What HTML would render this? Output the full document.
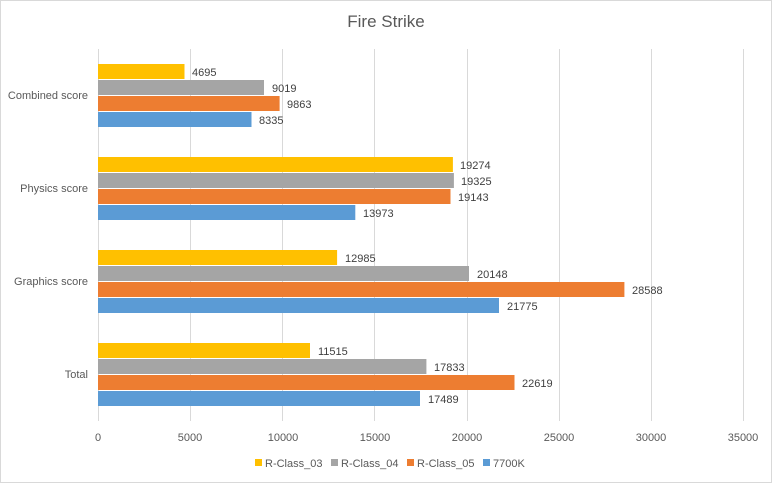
<!DOCTYPE html>
<html><head><meta charset="utf-8"><style>
body{margin:0;background:#fff}
svg{display:block;font-family:"Liberation Sans",sans-serif}
</style></head><body>
<svg width="772" height="483" viewBox="0 0 772 483">
<rect x="0.5" y="0.5" width="771" height="482" fill="#fff" stroke="#d9d9d9"/>
<text x="386" y="27" font-size="17" fill="#595959" text-anchor="middle">Fire Strike</text>
<g stroke="#d9d9d9" stroke-width="1">
<line x1="98.5" y1="49" x2="98.5" y2="421"/>
<line x1="190.5" y1="49" x2="190.5" y2="421"/>
<line x1="282.5" y1="49" x2="282.5" y2="421"/>
<line x1="374.5" y1="49" x2="374.5" y2="421"/>
<line x1="467.5" y1="49" x2="467.5" y2="421"/>
<line x1="559.5" y1="49" x2="559.5" y2="421"/>
<line x1="651.5" y1="49" x2="651.5" y2="421"/>
<line x1="743.5" y1="49" x2="743.5" y2="421"/>
</g>
<g font-size="11" fill="#595959" text-anchor="middle">
<text x="98" y="441">0</text><text x="190" y="441">5000</text><text x="283" y="441">10000</text><text x="375" y="441">15000</text><text x="467" y="441">20000</text><text x="559" y="441">25000</text><text x="651" y="441">30000</text><text x="743" y="441">35000</text>
</g>
<g font-size="11" fill="#595959" text-anchor="end">
<text x="88" y="99">Combined score</text>
<text x="88" y="192">Physics score</text>
<text x="88" y="285">Graphics score</text>
<text x="88" y="378">Total</text>
</g>
<g font-size="11" fill="#404040">
<!-- combined -->
<rect x="98" y="64" width="86.5" height="15" fill="#ffc000"/><text x="192" y="76">4695</text>
<rect x="98" y="80" width="166" height="15" fill="#a5a5a5"/><text x="272" y="92">9019</text>
<rect x="98" y="96" width="181.6" height="15" fill="#ed7d31"/><text x="287" y="108">9863</text>
<rect x="98" y="112" width="153.5" height="15" fill="#5b9bd5"/><text x="259" y="124">8335</text>
<!-- physics -->
<rect x="98" y="157" width="354.9" height="15" fill="#ffc000"/><text x="460" y="169">19274</text>
<rect x="98" y="173" width="355.9" height="15" fill="#a5a5a5"/><text x="461" y="185">19325</text>
<rect x="98" y="189" width="352.5" height="15" fill="#ed7d31"/><text x="458" y="201">19143</text>
<rect x="98" y="205" width="257.3" height="15" fill="#5b9bd5"/><text x="363" y="217">13973</text>
<!-- graphics -->
<rect x="98" y="250" width="239.1" height="15" fill="#ffc000"/><text x="345" y="262">12985</text>
<rect x="98" y="266" width="371" height="15" fill="#a5a5a5"/><text x="477" y="278">20148</text>
<rect x="98" y="282" width="526.4" height="15" fill="#ed7d31"/><text x="632" y="294">28588</text>
<rect x="98" y="298" width="401" height="15" fill="#5b9bd5"/><text x="507" y="310">21775</text>
<!-- total -->
<rect x="98" y="343" width="212" height="15" fill="#ffc000"/><text x="318" y="355">11515</text>
<rect x="98" y="359" width="328.4" height="15" fill="#a5a5a5"/><text x="434" y="371">17833</text>
<rect x="98" y="375" width="416.5" height="15" fill="#ed7d31"/><text x="522" y="387">22619</text>
<rect x="98" y="391" width="322" height="15" fill="#5b9bd5"/><text x="428" y="403">17489</text>
</g>
<g font-size="11" fill="#595959">
<rect x="255" y="459" width="7" height="7" fill="#ffc000"/><text x="265" y="467">R-Class_03</text>
<rect x="331" y="459" width="7" height="7" fill="#a5a5a5"/><text x="341" y="467">R-Class_04</text>
<rect x="407" y="459" width="7" height="7" fill="#ed7d31"/><text x="417" y="467">R-Class_05</text>
<rect x="483" y="459" width="7" height="7" fill="#5b9bd5"/><text x="493" y="467">7700K</text>
</g>
</svg>
</body></html>
